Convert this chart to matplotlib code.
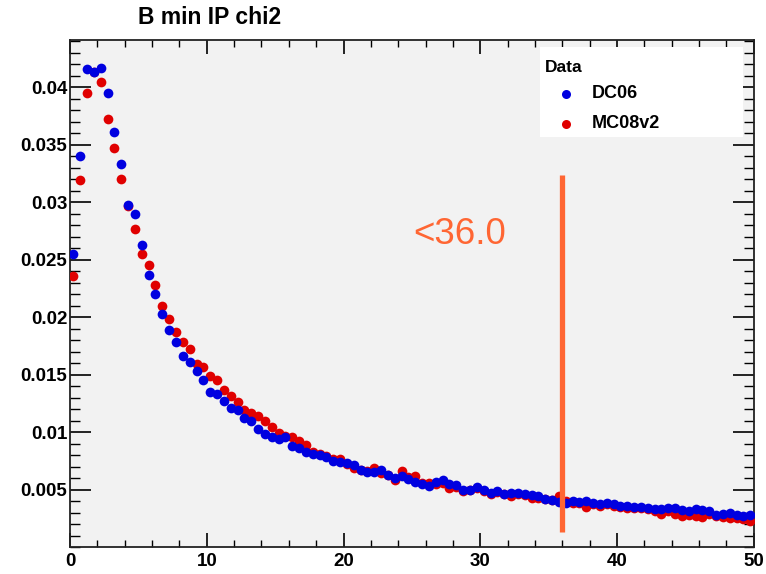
import numpy as np
import matplotlib
matplotlib.use("Agg")
import matplotlib.pyplot as plt
from matplotlib.ticker import MultipleLocator, FixedLocator
from matplotlib.patches import Rectangle

bin_edges_range = (0.0, 50.0)
n_bins = 100

dc06 = [0.0255, 0.0340, 0.0416, 0.0413, 0.0417, 0.0395, 0.0361, 0.0333, 0.0298, 0.0290,
        0.0263, 0.0237, 0.0220, 0.0203, 0.0189, 0.0178, 0.0166, 0.0161, 0.0153, 0.0145,
        0.0135, 0.0133, 0.0127, 0.0121, 0.0119, 0.0112, 0.0110, 0.0103, 0.0098, 0.0096,
        0.0094, 0.0096, 0.0088, 0.0086, 0.0083, 0.0081, 0.0080, 0.0078, 0.0075, 0.0074,
        0.0073, 0.0071, 0.0067, 0.0065, 0.0065, 0.0067, 0.0063, 0.0060, 0.0062, 0.0059,
        0.0057, 0.0055, 0.0053, 0.0057, 0.0058, 0.0055, 0.0054, 0.0050, 0.0050, 0.0052,
        0.0050, 0.0047, 0.0049, 0.0046, 0.0047, 0.0047, 0.0046, 0.0045, 0.0044, 0.0042,
        0.0041, 0.0039, 0.0038, 0.0040, 0.0039, 0.0040, 0.0038, 0.0037, 0.0038, 0.0037,
        0.0036, 0.0036, 0.0035, 0.0035, 0.0034, 0.0033, 0.0033, 0.0034, 0.0034, 0.0032,
        0.0031, 0.0033, 0.0032, 0.0031, 0.0028, 0.0029, 0.0030, 0.0028, 0.0027, 0.0028]

mc08v2 = [0.0236, 0.0319, 0.0395, 0.0413, 0.0405, 0.0372, 0.0347, 0.0320, 0.0297, 0.0277,
          0.0255, 0.0245, 0.0228, 0.0210, 0.0198, 0.0187, 0.0178, 0.0172, 0.0159, 0.0157,
          0.0149, 0.0145, 0.0137, 0.0131, 0.0126, 0.0119, 0.0117, 0.0114, 0.0110, 0.0104,
          0.0099, 0.0097, 0.0096, 0.0092, 0.0089, 0.0083, 0.0081, 0.0079, 0.0077, 0.0077,
          0.0072, 0.0069, 0.0067, 0.0066, 0.0069, 0.0064, 0.0063, 0.0058, 0.0066, 0.0061,
          0.0062, 0.0056, 0.0056, 0.0055, 0.0056, 0.0051, 0.0052, 0.0049, 0.0050, 0.0051,
          0.0049, 0.0046, 0.0048, 0.0046, 0.0044, 0.0046, 0.0045, 0.0043, 0.0043, 0.0042,
          0.0041, 0.0044, 0.0040, 0.0038, 0.0038, 0.0035, 0.0037, 0.0036, 0.0037, 0.0036,
          0.0035, 0.0034, 0.0034, 0.0034, 0.0033, 0.0031, 0.0029, 0.0031, 0.0029, 0.0027,
          0.0028, 0.0027, 0.0026, 0.0029, 0.0027, 0.0026, 0.0025, 0.0025, 0.0024, 0.0023]

cut_value = 36.0
cut_label = "<36.0"
x_ticks = [0, 10, 20, 30, 40, 50]
y_ticks = [0.005, 0.01, 0.015, 0.02, 0.025, 0.03, 0.035, 0.04]
y_tick_labels = ["0.005", "0.01", "0.015", "0.02", "0.025", "0.03", "0.035", "0.04"]

edges = np.linspace(bin_edges_range[0], bin_edges_range[1], n_bins + 1)
centers = 0.5 * (edges[:-1] + edges[1:])

plt.rcParams['font.family'] = ['Liberation Sans', 'DejaVu Sans']

fig = plt.figure(figsize=(7.66, 5.74), dpi=100)
ax = fig.add_axes([0.0914, 0.047, 0.8926, 0.883])
ax.set_facecolor('#f2f2f2')

blue = '#0000e0'
red = '#e00000'
orange = '#ff6633'

ax.plot(centers, mc08v2, 'o', color=red, markersize=7, markeredgewidth=0, zorder=3)
ax.plot(centers, dc06, 'o', color=blue, markersize=7, markeredgewidth=0, zorder=4)

ax.plot([cut_value, cut_value], [0.00135, 0.0324], color=orange, linewidth=3.8,
        solid_capstyle='butt', zorder=5)
ax.text(25.1, 0.0272, cut_label, color=orange, fontsize=26.5, va='center', ha='left', zorder=6)

ax.set_xlim(0, 50)
ax.set_ylim(0, 0.0441)

ax.xaxis.set_major_locator(FixedLocator(x_ticks))
ax.xaxis.set_minor_locator(MultipleLocator(2))
ax.yaxis.set_major_locator(FixedLocator(y_ticks))
ax.yaxis.set_minor_locator(MultipleLocator(0.001))
ax.set_yticklabels(y_tick_labels)

ax.tick_params(axis='both', which='both', direction='in', top=True, right=True, color='black')
ax.tick_params(axis='x', which='major', length=10, width=1.2, labelsize=13.5, pad=4)
ax.tick_params(axis='x', which='minor', length=5, width=1.0)
ax.tick_params(axis='y', which='major', length=15, width=1.2, labelsize=13.5, pad=2)
ax.tick_params(axis='y', which='minor', length=7, width=1.0)
for lab in ax.get_xticklabels() + ax.get_yticklabels():
    lab.set_fontweight('bold')

for sp in ax.spines.values():
    sp.set_linewidth(1.3)
    sp.set_color('#222222')

fig.text(138 / 766, 1 - 18 / 574, "B min IP chi2", fontsize=16.5, fontweight='bold',
         ha='left', va='center')

# legend box
box = Rectangle((540 / 766, 1 - 137 / 574), (743 - 540) / 766, (137 - 47) / 574,
                transform=fig.transFigure, facecolor='white', edgecolor='none', zorder=10)
fig.add_artist(box)
fig.text(545 / 766, 1 - 67 / 574, "Data", fontsize=12.5, fontweight='bold', ha='left',
         va='center', zorder=11)
fig.lines.append(plt.Line2D([566 / 766], [1 - 94 / 574], marker='o', color=blue,
                            markersize=6.5, markeredgewidth=0, transform=fig.transFigure,
                            zorder=11))
fig.lines.append(plt.Line2D([566 / 766], [1 - 124 / 574], marker='o', color=red,
                            markersize=6.5, markeredgewidth=0, transform=fig.transFigure,
                            zorder=11))
fig.text(592 / 766, 1 - 94 / 574, "DC06", fontsize=13, fontweight='bold', ha='left',
         va='center', zorder=11)
fig.text(592 / 766, 1 - 124 / 574, "MC08v2", fontsize=13, fontweight='bold', ha='left',
         va='center', zorder=11)

fig.savefig("out.png", dpi=100)
